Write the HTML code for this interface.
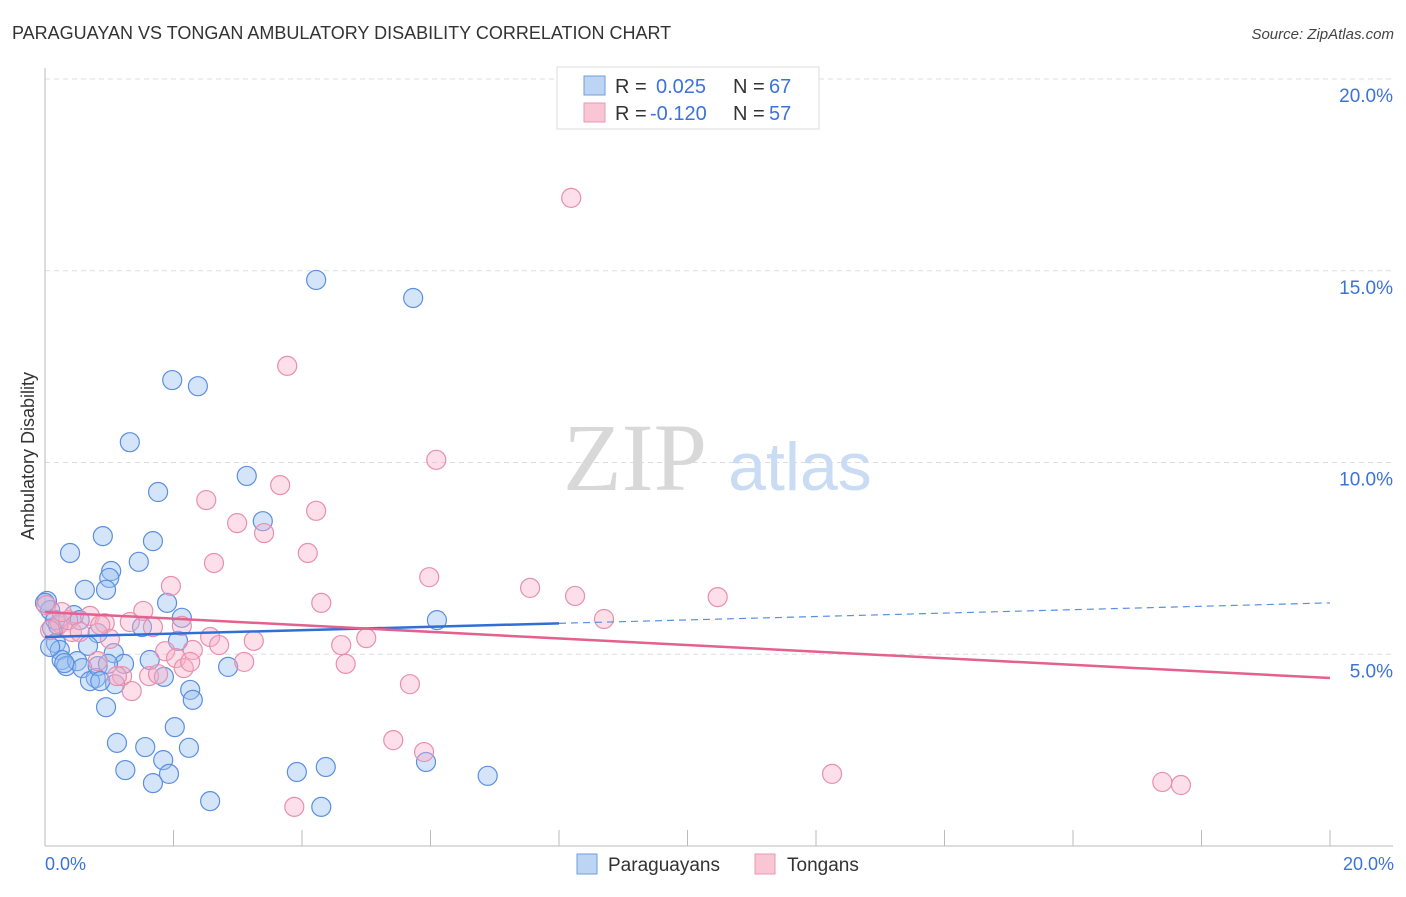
<!DOCTYPE html>
<html><head><meta charset="utf-8"><style>
body{margin:0;background:#fff;font-family:"Liberation Sans",sans-serif}
</style></head><body>
<svg width="1406" height="892" xmlns="http://www.w3.org/2000/svg">
<text x="12" y="39" font-size="18" fill="#333">PARAGUAYAN VS TONGAN AMBULATORY DISABILITY CORRELATION CHART</text>
<text x="1394" y="39" font-size="15" fill="#444" font-style="italic" text-anchor="end">Source: ZipAtlas.com</text>
<g id="grid"></g>
<text x="635" y="490" font-size="96" fill="#d8d8d8" font-family="Liberation Serif,serif" text-anchor="middle">ZIP</text>
<text x="800" y="490" font-size="68" fill="#c9dcf3" text-anchor="middle">atlas</text>
<line x1="45" y1="68" x2="45" y2="846" stroke="#bbb"/>
<line x1="45" y1="846" x2="1393" y2="846" stroke="#bbb"/>
<g id="ticks"></g>
<g id="points"></g>
<g id="trends"></g>
<text transform="translate(34,456) rotate(-90)" font-size="18" fill="#333" text-anchor="middle">Ambulatory Disability</text>
<text x="45" y="870" font-size="18" fill="#3b73d9">0.0%</text>
<text x="1394" y="870" font-size="18" fill="#3b73d9" text-anchor="end">20.0%</text>
<g>
<rect x="557" y="67" width="262" height="62" fill="#fff" stroke="#ddd"/>
<rect x="584" y="76" width="21" height="19" fill="#bcd5f5" stroke="#6f9de0"/>
<rect x="584" y="103" width="21" height="19" fill="#f9c6d6" stroke="#e899b3"/>
<text x="615" y="93" font-size="20" fill="#333">R = </text><text x="656" y="93" font-size="20" fill="#3b73d9">0.025</text>
<text x="733" y="93" font-size="20" fill="#333">N = </text><text x="769" y="93" font-size="20" fill="#3b73d9">67</text>
<text x="615" y="120" font-size="20" fill="#333">R = </text><text x="650" y="120" font-size="20" fill="#3b73d9">-0.120</text>
<text x="733" y="120" font-size="20" fill="#333">N = </text><text x="769" y="120" font-size="20" fill="#3b73d9">57</text>
</g>
<g>
<rect x="577" y="854" width="20" height="20" fill="#bcd5f5" stroke="#6f9de0"/>
<text x="608" y="871" font-size="19" fill="#333">Paraguayans</text>
<rect x="755" y="854" width="20" height="20" fill="#f9c6d6" stroke="#e899b3"/>
<text x="787" y="871" font-size="19" fill="#333">Tongans</text>
</g>
</svg>
<script>
const yTicks=[5,10,15,20];
const yTickLabels=["5.0%","10.0%","15.0%","20.0%"];
const xTicks=[2,4,6,8,10,12,14,16,18,20];
const blueX=[4.22,5.73,1.98,2.38,1.32,3.14,1.76,3.39,0.90,1.68,0.39,1.46,1.03,1.00,0.62,0.95,1.90,0.03,0.08,0.45,2.13,6.10,1.51,0.11,0.82,2.07,0.17,0.67,0.23,1.07,1.63,0.26,1.23,0.33,0.50,0.58,2.85,1.85,0.79,0.70,1.09,2.26,2.30,0.95,2.02,1.12,1.56,2.24,1.25,1.84,1.93,3.92,4.37,5.93,6.89,1.68,2.57,4.30,0.82,0.20,0.00,0.86,0.08,0.16,0.54,0.30,0.98];
const blueY=[14.76,14.29,12.15,11.99,10.53,9.65,9.23,8.47,8.08,7.95,7.64,7.41,7.17,6.99,6.68,6.68,6.34,6.39,6.15,6.02,5.95,5.89,5.71,5.68,5.55,5.35,5.29,5.22,5.11,5.03,4.85,4.85,4.75,4.69,4.82,4.64,4.67,4.41,4.38,4.30,4.22,4.07,3.81,3.62,3.10,2.69,2.58,2.56,1.98,2.24,1.88,1.93,2.06,2.19,1.83,1.64,1.17,1.02,4.69,5.76,6.34,4.30,5.19,5.89,5.89,4.77,4.75];
const pinkX=[8.19,3.77,6.09,3.66,2.51,2.99,4.22,3.41,4.09,2.63,5.98,1.96,7.55,8.25,10.47,4.30,1.53,8.70,0.70,0.93,1.68,2.13,0.02,0.23,0.42,1.01,2.57,2.71,3.25,5.00,4.61,2.30,1.87,2.04,3.10,4.68,2.16,0.82,1.20,1.62,1.76,5.68,1.35,5.42,5.90,12.25,17.39,17.68,3.88,0.08,0.36,0.54,0.86,0.26,1.32,2.26,1.12];
const pinkY=[16.90,12.52,10.07,9.41,9.02,8.42,8.74,8.16,7.64,7.38,7.01,6.78,6.73,6.52,6.49,6.34,6.13,5.92,6.00,5.81,5.71,5.74,6.28,5.81,5.58,5.40,5.45,5.24,5.35,5.42,5.24,5.11,5.08,4.90,4.80,4.75,4.64,4.82,4.43,4.43,4.48,4.22,4.04,2.76,2.45,1.88,1.67,1.59,1.02,5.63,5.89,5.58,5.76,6.10,5.84,4.80,4.43];
const blueTrend=[5.45,6.34];
const pinkTrend=[6.10,4.38];
const NS="http://www.w3.org/2000/svg";
const X=v=>45+v*64.25, Y=v=>846-v*38.35;
function mk(t,a,p){const e=document.createElementNS(NS,t);for(const k in a)e.setAttribute(k,a[k]);p.appendChild(e);return e;}
const grid=document.getElementById('grid'), ticks=document.getElementById('ticks');
yTicks.forEach((v,i)=>{
 const l=mk('line',{x1:45,x2:1393,y1:Y(v),y2:Y(v),stroke:'#ddd','stroke-dasharray':'5,4'},grid);
 
 
 const t=mk('text',{x:1393,y:Y(v)+23,'font-size':19,fill:'#3b73d9','text-anchor':'end'},ticks);
 t.textContent=yTickLabels[i];
 
 
});
xTicks.forEach(v=>{
 const l=mk('line',{x1:X(v),x2:X(v),y1:830,y2:846,stroke:'#bbb'},ticks);
 
 
});
const pts=document.getElementById('points');
blueX.forEach((x,i)=>{
 const c=mk('circle',{cx:X(x),cy:Y(blueY[i]),r:9.5,fill:'rgba(150,190,240,0.4)',stroke:'#5b8fe0','stroke-width':1.2},pts);
 
 
});
pinkX.forEach((x,i)=>{
 const c=mk('circle',{cx:X(x),cy:Y(pinkY[i]),r:9.5,fill:'rgba(247,175,200,0.4)',stroke:'#e98fae','stroke-width':1.2},pts);
 
 
});
const tr=document.getElementById('trends');
const bAt=x=>blueTrend[0]+(blueTrend[1]-blueTrend[0])*x/20;
let l1=mk('line',{x1:X(0),y1:Y(bAt(0)),x2:X(8),y2:Y(bAt(8)),stroke:'#2f6fd6','stroke-width':2.5},tr);


let l2=mk('line',{x1:X(8),y1:Y(bAt(8)),x2:X(20),y2:Y(bAt(20)),stroke:'#5b8fe0','stroke-width':1.2,'stroke-dasharray':'7,5'},tr);


let l3=mk('line',{x1:X(0),y1:Y(pinkTrend[0]),x2:X(20),y2:Y(pinkTrend[1]),stroke:'#e4608e','stroke-width':2.5},tr);


</script>
</body></html>
